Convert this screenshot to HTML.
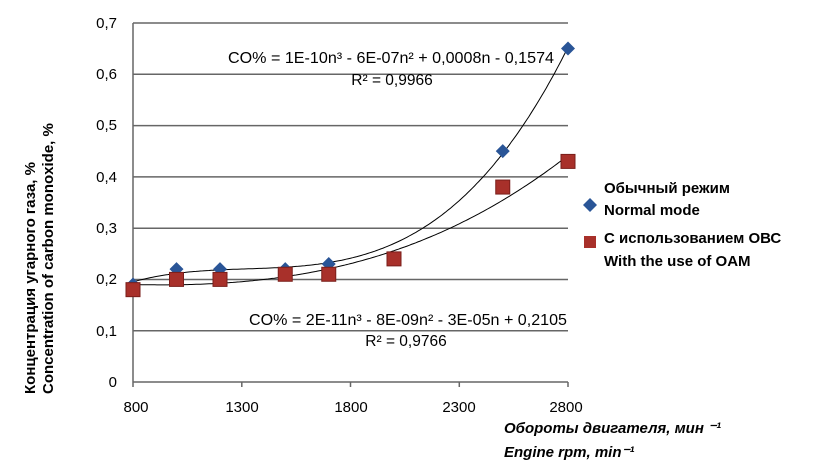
<!DOCTYPE html>
<html><head><meta charset="utf-8"><style>
body{margin:0;background:#fff}
svg{display:block}
text{font-family:"Liberation Sans",sans-serif}
</style></head><body>
<svg id="s" width="821" height="475" viewBox="0 0 821 475" xmlns="http://www.w3.org/2000/svg">
<g stroke="#666" stroke-width="1.5">
<line x1="133" y1="23" x2="568" y2="23"/>
<line x1="133" y1="74.3" x2="568" y2="74.3"/>
<line x1="133" y1="125.6" x2="568" y2="125.6"/>
<line x1="133" y1="176.9" x2="568" y2="176.9"/>
<line x1="133" y1="228.2" x2="568" y2="228.2"/>
<line x1="133" y1="279.5" x2="568" y2="279.5"/>
<line x1="133" y1="330.8" x2="568" y2="330.8"/>
<line x1="133" y1="382" x2="568" y2="382"/>
<line x1="133" y1="23" x2="133" y2="387"/>
<line x1="241.8" y1="382" x2="241.8" y2="387"/>
<line x1="350.5" y1="382" x2="350.5" y2="387"/>
<line x1="459.3" y1="382" x2="459.3" y2="387"/>
<line x1="568" y1="382" x2="568" y2="387"/>
</g>
<g font-size="15" text-anchor="end" fill="#000">
<text x="117" y="28">0,7</text><text x="117" y="79">0,6</text><text x="117" y="130">0,5</text>
<text x="117" y="182">0,4</text><text x="117" y="233">0,3</text><text x="117" y="284">0,2</text>
<text x="117" y="336">0,1</text><text x="117" y="387">0</text>
</g>
<g font-size="15" text-anchor="middle">
<text x="136" y="412">800</text><text x="242" y="412">1300</text><text x="351" y="412">1800</text>
<text x="459" y="412">2300</text><text x="566" y="412">2800</text>
</g>
<g id="curves" fill="none" stroke="#000" stroke-width="1"></g>
<g id="pts"></g>
<g font-size="15.5" text-anchor="middle">
<text x="391" y="63" textLength="326" lengthAdjust="spacingAndGlyphs">CO% = 1E-10n³ - 6E-07n² + 0,0008n - 0,1574</text>
<text x="392" y="85">R² = 0,9966</text>
<text x="408" y="325" textLength="318" lengthAdjust="spacingAndGlyphs">CO% = 2E-11n³ - 8E-09n² - 3E-05n + 0,2105</text>
<text x="406" y="346">R² = 0,9766</text>
</g>
<g font-size="15" font-weight="bold">
<path d="M590 198 L597 205 L590 212 L583 205Z" fill="#2a5597"/>
<text x="604" y="193">Обычный режим</text>
<text x="604" y="215">Normal mode</text>
<rect x="584" y="236" width="12" height="12" fill="#a8302a"/>
<text x="604" y="243">С использованием ОВС</text>
<text x="604" y="266">With the use of OAM</text>
</g>
<g font-size="15" font-weight="bold" font-style="italic">
<text x="504" y="433">Обороты двигателя, мин ⁻¹</text>
<text x="504" y="457">Engine rpm, min⁻¹</text>
</g>
<g font-size="15" font-weight="bold">
<text transform="translate(35,394) rotate(-90)">Концентрация угарного газа, %</text>
<text transform="translate(53,394) rotate(-90)">Concentration of carbon monoxide, %</text>
</g>
</svg>
<script>
var X=n=>133+(n-800)*0.2175, Y=v=>382-v*513;
var blue=[[800,.19],[1000,.22],[1200,.22],[1500,.22],[1700,.23],[2500,.45],[2800,.65]];
var red=[[800,.18],[1000,.2],[1200,.2],[1500,.21],[1700,.21],[2000,.24],[2500,.38],[2800,.43]];
function fit(d){var M=[[0,0,0,0],[0,0,0,0],[0,0,0,0],[0,0,0,0]],b=[0,0,0,0];
d.forEach(p=>{var t=(p[0]-1800)/1000,v=[1,t,t*t,t*t*t];for(var i=0;i<4;i++){b[i]+=v[i]*p[1];for(var j=0;j<4;j++)M[i][j]+=v[i]*v[j];}});
for(var i=0;i<4;i++){for(var k=i+1;k<4;k++){var f=M[k][i]/M[i][i];for(var j=i;j<4;j++)M[k][j]-=f*M[i][j];b[k]-=f*b[i];}}
var c=[0,0,0,0];for(var i=3;i>=0;i--){var s=b[i];for(var j=i+1;j<4;j++)s-=M[i][j]*c[j];c[i]=s/M[i][i];}return c;}
var ns="http://www.w3.org/2000/svg",g=document.getElementById('curves'),P=document.getElementById('pts');
[blue,red].forEach(d=>{var c=fit(d),s="";for(var n=800;n<=2800;n+=10){var t=(n-1800)/1000,v=c[0]+c[1]*t+c[2]*t*t+c[3]*t*t*t;s+=(n==800?"M":"L")+X(n).toFixed(1)+" "+Y(v).toFixed(1);}
var p=document.createElementNS(ns,'path');p.setAttribute('d',s);g.appendChild(p);});
blue.forEach(p=>{var x=X(p[0]),y=Y(p[1]),e=document.createElementNS(ns,'path');e.setAttribute('d',`M${x} ${y-7}L${x+7} ${y}L${x} ${y+7}L${x-7} ${y}Z`);e.setAttribute('fill','#2a5597');P.appendChild(e);});
red.forEach(p=>{var x=X(p[0]),y=Y(p[1]),e=document.createElementNS(ns,'rect');e.setAttribute('x',x-7);e.setAttribute('y',y-7);e.setAttribute('width',14);e.setAttribute('height',14);e.setAttribute('fill','#a8302a');e.setAttribute('stroke','#7a1e1a');P.appendChild(e);});
</script>
</body></html>
